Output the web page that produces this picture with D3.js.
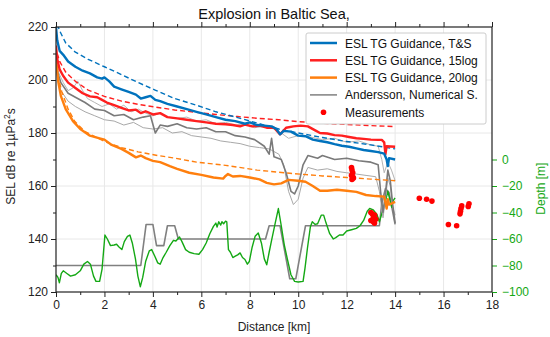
<!DOCTYPE html>
<html>
<head>
<meta charset="utf-8">
<script src="https://cdn.jsdelivr.net/npm/d3@7"></script>
<style>
  body { margin: 0; background: #fff; }
  text { font-family: "Liberation Sans", Arial, sans-serif; }
</style>
</head>
<body>
<div id="chart"></div>
<script>
//* data: [distance km, SEL dB] or [distance km, depth m]
var esl_ts = [[0,220],[0.05,215],[0.15,211],[0.3,209.5],[0.5,207],[0.8,205],[1.1,203.5],[1.4,202.5],[1.7,201],[1.9,200.5],[2.0,201],[2.2,199.5],[2.4,197.5],[2.7,196.5],[3.0,195.5],[3.3,194.5],[3.5,193],[3.7,193.5],[3.9,194],[4.1,192.5],[4.3,192],[4.6,191],[5.0,190],[5.4,189],[5.8,188],[6.2,187],[6.6,186],[7.0,185],[7.4,184.5],[7.8,183.5],[8.0,184],[8.3,183],[8.6,182.8],[8.9,182.5],[9.1,181.5],[9.25,179.5],[9.4,180.8],[9.7,180.5],[10.0,179],[10.3,178.8],[10.6,177.5],[10.9,177],[11.2,176.5],[11.5,175.8],[11.8,175.2],[12.1,174.8],[12.4,174.2],[12.7,173.6],[13.0,173.2],[13.3,172.8],[13.55,172.2],[13.65,170],[13.7,167.5],[13.75,170.5],[14,170]]
var esl_15 = [[0,213],[0.05,208],[0.15,204],[0.3,201.5],[0.5,199],[0.8,197],[1.1,195],[1.4,193.8],[1.7,193.5],[1.9,192.5],[2.1,191.5],[2.4,190.5],[2.7,189.5],[3.0,188.5],[3.3,188.8],[3.5,187.5],[3.7,188.2],[4.0,187],[4.3,187.5],[4.6,186],[5.0,185.5],[5.4,185],[5.8,184.5],[6.2,184],[6.6,183.5],[7.0,183.3],[7.3,183],[7.6,182.5],[7.8,183.2],[8.1,182.5],[8.4,182.8],[8.7,182],[9.0,182],[9.25,179.5],[9.5,182],[9.8,182.5],[10.1,182.8],[10.4,182.5],[10.7,181],[10.9,180],[11.2,179.8],[11.5,179.2],[11.8,179],[12.1,178.5],[12.4,178],[12.7,177.8],[13.0,177.5],[13.3,177.4],[13.45,177.4],[13.55,176.5],[13.6,172],[13.65,175],[14,174.8]]
var esl_20 = [[0,209],[0.05,203],[0.1,199],[0.2,194],[0.4,189],[0.7,184.5],[1.0,181.5],[1.4,179],[1.8,178],[2.0,177.5],[2.3,175.5],[2.7,174],[3.0,172.5],[3.3,170.8],[3.5,171.5],[3.7,170.5],[4.0,169.5],[4.3,169],[4.7,167.5],[5.0,166.5],[5.5,165],[6.0,164.2],[6.5,163.2],[6.9,162.8],[7.0,163.8],[7.1,164.5],[7.3,163.6],[7.6,163.8],[8.0,163.2],[8.4,162.5],[8.7,161.2],[9.0,160.6],[9.3,161],[9.6,162.3],[10.0,162],[10.3,161.6],[10.6,160],[10.9,158.2],[11.2,158.2],[11.6,158.6],[12.0,158.2],[12.4,157.8],[12.8,156.6],[13.2,156.2],[13.55,156],[13.65,151.5],[13.7,155],[13.75,153],[14,154]]

var ts_dashed = [[0.05,221],[0.17,218.2],[0.4,214],[0.8,210.5],[1.33,207.8],[2.0,205],[2.71,202],[3.4,199],[4.09,196.2],[4.9,193],[5.8,190.5],[6.6,188],[7.5,185.8],[8.4,183.5],[9.2,181.5],[10,180],[11,178.3],[12,176.8],[13,175.5],[14,174]]
var log15_dashed = [[0.05,210],[0.15,207],[0.4,203],[0.8,199.5],[1.33,196.2],[2.0,193.8],[2.71,192],[3.4,190.8],[4.09,189.8],[4.9,188.7],[5.8,187.8],[6.6,187],[7.5,186.2],[8.4,185.5],[9.2,185],[10,184.3],[11,183.7],[12,183.2],[13,182.8],[14,182.4]]
var log20_dashed = [[0.05,205],[0.1,201],[0.24,195.6],[0.5,189],[0.78,184.3],[1.2,180.5],[2.02,176.7],[2.7,174.5],[3.39,172.9],[4.2,171.5],[4.91,170.5],[5.8,169],[7,167.8],[8.3,166],[9.66,164.8],[11,163.8],[12,163.2],[13,162.6],[14,162]]

// Andersson numerical simulations (three receivers)
var and_upper = [[0,207],[0.1,203],[0.3,199],[0.5,196],[0.7,197],[0.9,199.5],[1.1,196],[1.3,193],[1.6,191.5],[1.9,190],[2.2,191],[2.5,189],[2.8,190.5],[3.1,188],[3.4,189],[3.7,187.5],[4.0,186.5],[4.3,187.5],[4.6,186],[5.0,185.5],[5.4,186],[5.8,184.5],[6.2,185],[6.6,183.5],[7.0,184],[7.4,183],[7.8,183.5],[8.2,182],[8.6,182.5],[9.0,181.5],[9.3,180],[9.6,178],[10,179],[10.5,178.5],[11,177.5],[11.5,178],[12,176.5],[12.5,177],[13,175.5],[13.3,175],[13.45,170],[13.55,165],[13.7,169],[13.85,166],[14,162]]
var and_mid = [[0,205],[0.2,199],[0.5,195],[0.8,193.5],[1.2,191.5],[1.6,189],[2,188.5],[2.4,186.5],[2.8,187],[3.2,185],[3.6,186],[3.9,186.5],[4.1,180],[4.3,183],[4.6,182.5],[5,183.5],[5.4,182],[5.8,181.5],[6.2,182],[6.6,180.5],[7,180.5],[7.4,179],[7.8,178.5],[8.2,177.5],[8.6,175],[8.8,172],[8.9,178],[9.0,171],[9.3,170],[9.5,165],[9.7,158],[9.85,157],[10,160],[10.2,168],[10.4,171.5],[10.8,170.5],[11,171.5],[11.5,170],[12,170.5],[12.5,169.5],[13,169],[13.3,168],[13.4,158],[13.5,150],[13.6,157],[13.7,166],[13.8,162],[13.9,153],[14,146]]
var and_lower = [[0,204],[0.2,196],[0.5,192],[0.8,190],[1.2,188],[1.6,186.5],[2,185],[2.4,184.5],[2.8,183],[3.2,184],[3.6,182],[4,181.5],[4.4,182],[4.8,180],[5.2,180.5],[5.6,179],[6,178.5],[6.4,178],[6.8,177],[7.2,176.5],[7.6,176],[8,175],[8.4,174.5],[8.8,174],[9.2,172],[9.4,168],[9.6,158],[9.8,153],[10,155],[10.2,163],[10.4,167],[10.8,166],[11.2,166.5],[11.6,165.5],[12,165],[12.4,164.5],[12.8,164],[13.2,163.5],[13.35,158],[13.5,148],[13.6,155],[13.7,163],[13.8,160],[13.9,152],[14,149]]

// model bottom (gray) and measured bathymetry (green), right axis
var model_depth = [[0,-80],[3.5,-80],[3.72,-49],[4.0,-49],[4.15,-65],[4.45,-65],[4.6,-50],[4.9,-50],[5.05,-60],[8.65,-60],[8.8,-50],[9.25,-50],[9.65,-90],[9.9,-90],[10.3,-50],[13.35,-50],[13.45,-33],[13.6,-22],[13.75,-25],[14,-49]]
var bathymetry = [[0,-87],[0.08,-89],[0.14,-93],[0.22,-86],[0.3,-84],[0.45,-86],[0.6,-88],[0.8,-87],[1.0,-84],[1.15,-79],[1.3,-77],[1.42,-79],[1.55,-88],[1.65,-92],[1.8,-92],[1.9,-83],[2.02,-57],[2.12,-60],[2.25,-65],[2.4,-64.5],[2.5,-64],[2.6,-66],[2.72,-68],[2.82,-62],[2.95,-58],[3.05,-57],[3.15,-63],[3.28,-75],[3.38,-88],[3.48,-96],[3.58,-89],[3.7,-77],[3.85,-69],[3.95,-68],[4.08,-73],[4.2,-78],[4.3,-79],[4.42,-74],[4.55,-70],[4.7,-65],[4.85,-61],[4.95,-61.5],[5.1,-58.5],[5.2,-62],[5.35,-68],[5.5,-70],[5.7,-71],[5.9,-71.5],[6.05,-68],[6.2,-63],[6.35,-56],[6.5,-50.5],[6.6,-48],[6.65,-51],[6.72,-47],[6.8,-49.5],[6.85,-47],[6.92,-48.5],[7.0,-46.5],[7.05,-47],[7.12,-68],[7.2,-70],[7.3,-74],[7.4,-73],[7.5,-72],[7.6,-70.5],[7.7,-74],[7.8,-75.5],[7.9,-79],[7.98,-77],[8.1,-66],[8.22,-58],[8.35,-55.5],[8.48,-63],[8.6,-75],[8.7,-79.5],[8.8,-70],[8.9,-61],[9.05,-48],[9.18,-37],[9.3,-50],[9.42,-64],[9.55,-75],[9.7,-87],[9.85,-92],[10.0,-92.5],[10.2,-92],[10.28,-82],[10.38,-67],[10.5,-51],[10.58,-47],[10.7,-49],[10.8,-48.5],[10.95,-42],[11.05,-42],[11.15,-48],[11.3,-56],[11.45,-60],[11.55,-59],[11.7,-57],[11.85,-57],[12.0,-54],[12.2,-53],[12.4,-52],[12.55,-50],[12.7,-46],[12.85,-39],[12.95,-37],[13.1,-38],[13.25,-41.5],[13.35,-47],[13.45,-41],[13.58,-33],[13.7,-24],[13.78,-30],[13.86,-36],[13.92,-31],[14,-29]]

var measurements = [[12.2,167],[12.22,166],[12.25,165],[12.2,164],[12.25,163.5],[12.28,163],[12.22,162.5],[13.0,150],[13.05,149.5],[13.15,149],[13.1,148],[13.2,147.5],[13.0,147],[13.1,146.5],[13.15,146],[15.0,155.4],[15.3,155],[15.52,154.3],[16.2,145.5],[16.54,145],[16.75,152.5],[16.72,151.5],[16.7,150.5],[16.68,149.5],[17.05,153.3],[17.02,152.3]]

var xTicks = [0,2,4,6,8,10,12,14,16,18]
var selTicks = [120,140,160,180,200,220]
var depthTicks = [-100,-80,-60,-40,-20,0]

var legendItems = [
  {label: "ESL TG Guidance, T&S", color: "#0072BD", type: "line", w: 2.5},
  {label: "ESL TG Guidance, 15log", color: "#FF1F1F", type: "line", w: 2.5},
  {label: "ESL TG Guidance, 20log", color: "#FF7F0E", type: "line", w: 2.5},
  {label: "Andersson, Numerical S.", color: "#808080", type: "line", w: 1.5},
  {label: "Measurements", color: "#FF0000", type: "dot"}
]

//* margins
var margin = {top: 27, right: 58, bottom: 45, left: 56},
  width = 550 - margin.left - margin.right,
  height = 337 - margin.top - margin.bottom;

var svg = d3.select("#chart")
  .append("svg")
    .attr("width", 550)
    .attr("height", 337)
  .append("g")
    .attr("transform", "translate(" + margin.left + "," + margin.top + ")");

var x = d3.scaleLinear().domain([0, 18]).range([0, width])
var y = d3.scaleLinear().domain([120, 220]).range([height, 0])
var yd = d3.scaleLinear().domain([-100, 100]).range([height, 0])

var green = "#14A814"

//* grid
svg.append("g").selectAll("line")
  .data(xTicks.slice(1, -1)).enter().append("line")
    .attr("x1", function(d){ return x(d) }).attr("x2", function(d){ return x(d) })
    .attr("y1", 0).attr("y2", height)
    .style("stroke", "#e8e8e8")
svg.append("g").selectAll("line")
  .data(selTicks.slice(1, -1)).enter().append("line")
    .attr("y1", function(d){ return y(d) }).attr("y2", function(d){ return y(d) })
    .attr("x1", 0).attr("x2", width)
    .style("stroke", "#e8e8e8")

svg.append("clipPath").attr("id", "clip")
  .append("rect").attr("width", width).attr("height", height)

var plot = svg.append("g").attr("clip-path", "url(#clip)")

var lineSel = d3.line().x(function(d){ return x(d[0]) }).y(function(d){ return y(d[1]) })
var lineDepth = d3.line().x(function(d){ return x(d[0]) }).y(function(d){ return yd(d[1]) })

function draw(data, gen, color, w, dash) {
  plot.append("path")
    .datum(data)
    .attr("d", gen)
    .style("fill", "none")
    .style("stroke", color)
    .style("stroke-width", w)
    .style("stroke-linejoin", "round")
    .style("stroke-dasharray", dash || null)
}

// bottom profiles
draw(model_depth, lineDepth, "#808080", 1.6)
draw(bathymetry, lineDepth, green, 1.4)

// simulations
draw(and_upper, lineSel, "#b4b4b4", 1)
draw(and_lower, lineSel, "#a8a8a8", 1)
draw(and_mid, lineSel, "#7a7a7a", 1.6)

// guidance curves
draw(log20_dashed, lineSel, "#FF7F0E", 1.4, "5,3")
draw(log15_dashed, lineSel, "#FF1F1F", 1.4, "5,3")
draw(ts_dashed, lineSel, "#0072BD", 1.4, "5,3")
draw(esl_20, lineSel, "#FF7F0E", 2.4)
draw(esl_15, lineSel, "#FF1F1F", 2.4)
draw(esl_ts, lineSel, "#0072BD", 2.4)

svg.append("g").selectAll("circle")
  .data(measurements).enter().append("circle")
    .attr("cx", function(d){ return x(d[0]) })
    .attr("cy", function(d){ return y(d[1]) })
    .attr("r", 2.8)
    .style("fill", "#FF0000")

//* axes
function styleAxis(g, color) {
  g.select(".domain").remove()
  g.selectAll("line").style("stroke", color)
  g.selectAll("text").style("font-size", "12px").style("fill", color)
}

svg.append("g").attr("transform", "translate(0," + height + ")")
  .call(d3.axisBottom(x).tickValues(xTicks).tickSize(5).tickPadding(3))
  .call(styleAxis, "#222")
svg.append("g").attr("transform", "translate(0," + height + ")")
  .call(d3.axisBottom(x).tickValues(d3.range(1, 18, 2)).tickSize(3).tickFormat(""))
  .call(styleAxis, "#222")
svg.append("g")
  .call(d3.axisTop(x).tickValues(xTicks).tickSize(5).tickFormat(""))
  .call(styleAxis, "#222")
svg.append("g")
  .call(d3.axisTop(x).tickValues(d3.range(1, 18, 2)).tickSize(3).tickFormat(""))
  .call(styleAxis, "#222")

svg.append("g")
  .call(d3.axisLeft(y).tickValues(selTicks).tickSize(5).tickPadding(3))
  .call(styleAxis, "#222")
svg.append("g")
  .call(d3.axisLeft(y).tickValues(d3.range(130, 220, 20)).tickSize(3).tickFormat(""))
  .call(styleAxis, "#222")

svg.append("g").attr("transform", "translate(" + width + ",0)")
  .call(d3.axisRight(yd).tickValues(depthTicks).tickSize(5).tickPadding(5)
    .tickFormat(function(d){ return d < 0 ? "\u2212" + (-d) : d }))
  .call(styleAxis, green)

// frame
svg.append("rect")
  .attr("width", width).attr("height", height)
  .style("fill", "none").style("stroke", "#222").style("stroke-width", 1.2)

//* labels
svg.append("text")
  .attr("x", width / 2).attr("y", -8)
  .attr("text-anchor", "middle")
  .style("font-size", "14.5px").style("fill", "#111")
  .text("Explosion in Baltic Sea,")

svg.append("text")
  .attr("x", width / 2).attr("y", height + 39)
  .attr("text-anchor", "middle")
  .style("font-size", "12px").style("fill", "#222")
  .text("Distance [km]")

var yl = svg.append("text")
  .attr("transform", "translate(" + (-41) + "," + (height / 2 - 3) + ") rotate(-90)")
  .attr("text-anchor", "middle")
  .style("font-size", "12px").style("fill", "#222")
yl.append("tspan").text("SEL dB re 1\u00b5Pa")
yl.append("tspan").attr("dy", -5).style("font-size", "8.5px").text("2")
yl.append("tspan").attr("dy", 5).text("s")

svg.append("text")
  .attr("transform", "translate(" + (width + 53) + "," + yd(-22) + ") rotate(-90)")
  .attr("text-anchor", "middle")
  .style("font-size", "12px").style("fill", green)
  .text("Depth [m]")

//* legend
var lg = svg.append("g").attr("transform", "translate(" + (306 - margin.left) + "," + (33 - margin.top) + ")")
lg.append("rect")
  .attr("width", 180).attr("height", 91).attr("rx", 2)
  .style("fill", "#fff").style("stroke", "#cccccc")
var rows = lg.selectAll("g.item").data(legendItems).enter().append("g")
  .attr("transform", function(d, i){ return "translate(0," + (10 + i * 17.3) + ")" })
rows.filter(function(d){ return d.type == "line" }).append("line")
  .attr("x1", 4).attr("x2", 31)
  .style("stroke", function(d){ return d.color })
  .style("stroke-width", function(d){ return d.w })
rows.filter(function(d){ return d.type == "dot" }).append("circle")
  .attr("cx", 17.5).attr("r", 2.8)
  .style("fill", function(d){ return d.color })
rows.append("text")
  .attr("x", 39).attr("y", 4.5)
  .style("font-size", "12px").style("fill", "#111")
  .text(function(d){ return d.label })
</script>
</body>
</html>
